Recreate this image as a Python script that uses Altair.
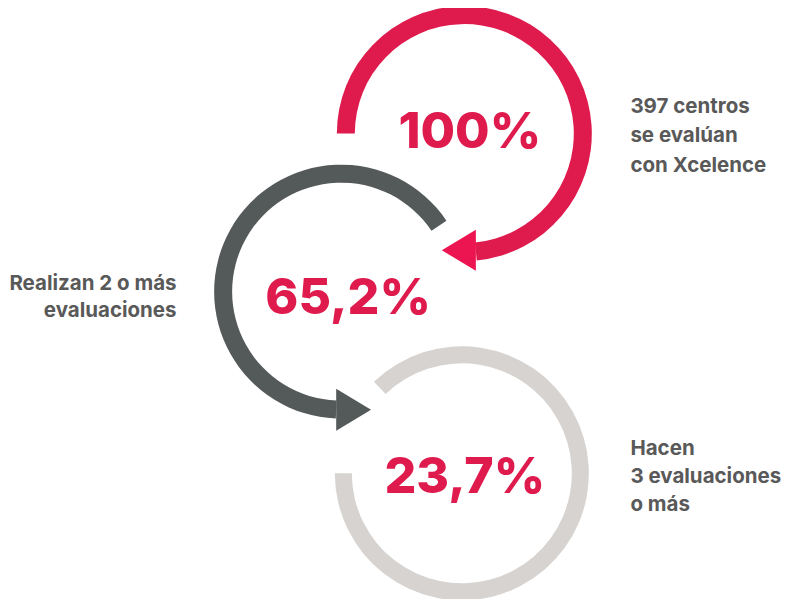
import altair as alt
import pandas as pd
import numpy as np

# ---- data ----
ring_cx = [465.5, 342.0, 463.0]
ring_cy = [133.5, 294.0, 478.5]
ring_start_deg = [270.0, 182.4, 316.2]
ring_end_deg = [534.4, 416.0, 630.0]
ring_outer = [127.5, 127.0, 127.0]
ring_inner = [109.5, 109.0, 110.0]
ring_color = ["#DF1B4E", "#54595A", "#D6D3D0"]

arrow_x = [460.0, 354.5]
arrow_y = [252.0, 414.0]
arrow_angle = [180, 0]
arrow_size = [1681, 1764]
arrow_color = ["#EC1552", "#54595A"]

pct_text = ["100%", "65,2%", "23,7%"]
pct_x = [471, 349, 466]
pct_y = [148, 317, 498]

left_lines = ["397 centros", "se evalúan", "con Xcelence", "Hacen", "3 evaluaciones", "o más"]
left_x = [632, 632, 632, 632, 632, 632]
left_y = [113, 142.5, 172, 460, 488.5, 517]

right_lines = ["Realizan 2 o más", "evaluaciones"]
right_x = [177, 177]
right_y = [292, 320]

TEXT_GRAY = "#595959"
PCT_RED = "#DF1B4E"

rings = pd.DataFrame({
    "cx": ring_cx, "cy": ring_cy,
    "t0": np.radians(ring_start_deg), "t1": np.radians(ring_end_deg),
    "ro": ring_outer, "ri": ring_inner, "color": ring_color,
})
arrows = pd.DataFrame({"x": arrow_x, "y": arrow_y, "angle": arrow_angle,
                       "size": arrow_size, "color": arrow_color})
pcts = pd.DataFrame({"t": pct_text, "x": pct_x, "y": pct_y})
lefts = pd.DataFrame({"t": left_lines, "x": left_x, "y": left_y})
rights = pd.DataFrame({"t": right_lines, "x": right_x, "y": right_y})

xs = alt.Scale(domain=[8, 781], nice=False, zero=False)
ys = alt.Scale(domain=[599, 8], nice=False, zero=False)

X = lambda f: alt.X(f"{f}:Q", scale=xs, axis=None)
Y = lambda f: alt.Y(f"{f}:Q", scale=ys, axis=None)

ring_layer = alt.Chart(rings).mark_arc(stroke=None).encode(
    x=X("cx"), y=Y("cy"),
    theta=alt.Theta("t0:Q", scale=None),
    theta2=alt.Theta2("t1:Q"),
    radius=alt.Radius("ro:Q", scale=None),
    radius2=alt.Radius2("ri:Q"),
    color=alt.Color("color:N", scale=None),
)

arrow_layer = alt.Chart(arrows).mark_point(
    shape="M-0.83,-1L0.83,0L-0.83,1Z", filled=True, opacity=1, strokeWidth=0
).encode(
    x=X("x"), y=Y("y"),
    angle=alt.Angle("angle:Q", scale=None),
    size=alt.Size("size:Q", scale=None),
    color=alt.Color("color:N", scale=None),
)

pct_layer = alt.Chart(pcts).mark_text(
    align="center", baseline="alphabetic", font="Inter", fontSize=50,
    fontWeight=800, color=PCT_RED
).encode(x=X("x"), y=Y("y"), text="t:N")

left_layer = alt.Chart(lefts).mark_text(
    align="left", baseline="alphabetic", font="Inter", fontSize=20.5,
    fontWeight=700, color=TEXT_GRAY
).encode(x=X("x"), y=Y("y"), text="t:N")

right_layer = alt.Chart(rights).mark_text(
    align="right", baseline="alphabetic", font="Inter", fontSize=20.5,
    fontWeight=700, color=TEXT_GRAY
).encode(x=X("x"), y=Y("y"), text="t:N")

chart = alt.layer(ring_layer, arrow_layer, pct_layer, left_layer, right_layer).properties(
    width=773, height=591, padding=0,
    autosize=alt.AutoSizeParams(type="fit", contains="padding"),
    background="white",
).configure_view(strokeWidth=0)

chart.save("out.html", embed_options={"renderer": "svg", "actions": False})
